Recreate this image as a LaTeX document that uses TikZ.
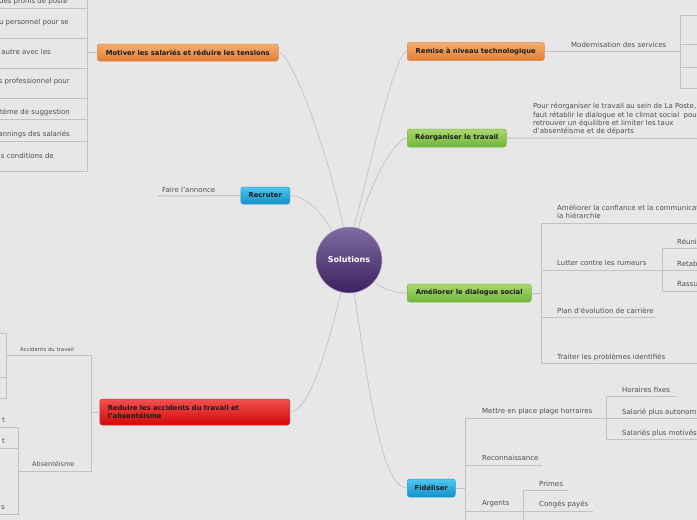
\documentclass[tikz,border=0pt]{standalone}
\usepackage{fontspec}
\setmainfont{DejaVu Sans}
\usepackage{tikz}
\usetikzlibrary{positioning}
\definecolor{Canvas}{HTML}{E7E7E7}
\definecolor{Wire}{HTML}{C6C6C6}
\definecolor{RuleGrey}{HTML}{C2C2C2}
\definecolor{LeafInk}{HTML}{4F4F4F}
\definecolor{TopicInk}{HTML}{1C1C1C}
\definecolor{OrangeTop}{HTML}{F5AE70}
\definecolor{OrangeBot}{HTML}{E27E32}
\definecolor{OrangeEdge}{HTML}{D8894A}
\definecolor{GreenTop}{HTML}{ABD870}
\definecolor{GreenBot}{HTML}{6EB53A}
\definecolor{GreenEdge}{HTML}{7CB64C}
\definecolor{BlueTop}{HTML}{52C6EF}
\definecolor{BlueBot}{HTML}{1092CC}
\definecolor{BlueEdge}{HTML}{2A9CCC}
\definecolor{RedTop}{HTML}{F25050}
\definecolor{RedBot}{HTML}{D20808}
\definecolor{RedEdge}{HTML}{D83434}
\definecolor{HubTop}{HTML}{806CA0}
\definecolor{HubBot}{HTML}{3C2160}

\begin{document}
\begin{tikzpicture}[
  x=1pt,y=-1pt,
  topic/.style={rounded corners=2.5pt,minimum height=17pt,inner xsep=3pt,inner ysep=2pt,
    font=\bfseries\fontsize{6.8}{8}\selectfont,text=TopicInk,line width=.5pt},
  topicOrange/.style={topic,draw=OrangeEdge,top color=OrangeTop,bottom color=OrangeBot},
  topicGreen/.style={topic,draw=GreenEdge,top color=GreenTop,bottom color=GreenBot},
  topicBlue/.style={topic,draw=BlueEdge,top color=BlueTop,bottom color=BlueBot},
  topicRed/.style={topic,draw=RedEdge,top color=RedTop,bottom color=RedBot},
  hub/.style={circle,minimum size=66pt,inner sep=0pt,draw=HubTop!60!white,line width=.5pt,
    top color=HubTop,bottom color=HubBot,text=white,font=\bfseries\fontsize{8}{9}\selectfont},
  wire/.style={draw=Wire,line width=.8pt},
  rule/.style={draw=RuleGrey,line width=1pt},
  leaf/.style={anchor=west,inner sep=0pt,text=LeafInk,font=\fontsize{7}{8.4}\selectfont},
  cutleaf/.style={leaf,anchor=east},
  note/.style={leaf,anchor=north west,align=left,font=\fontsize{7}{8.3}\selectfont}
]
  \path[use as bounding box,fill=Canvas] (0,0) rectangle (697,520);
  \clip (0,0) rectangle (697,520);

  % topics
  \node[hub] (hub) at (349,260) {Solutions};
  \node[topicOrange,minimum width=181pt,anchor=west] (motiv) at (97,52.5) {Motiver les salariés et réduire les tensions};
  \node[topicOrange,minimum width=137pt,minimum height=18pt,anchor=west] (remise) at (407,51.5) {Remise à niveau technologique};
  \node[topicGreen,minimum width=99pt,minimum height=18pt,anchor=west] (reorg) at (407,138) {Réorganiser le travail};
  \node[topicBlue,minimum width=49pt,anchor=east] (recru) at (290,195.5) {Recruter};
  \node[topicGreen,minimum width=124pt,minimum height=18pt,anchor=west] (amel) at (407,293) {Améliorer le dialogue social};
  \node[topicRed,minimum width=190pt,minimum height=26pt,text width=174pt,align=left,anchor=east] (reduc) at (290,412)
    {Reduire les accidents du travail et\\l'absentéisme};
  \node[topicBlue,minimum width=48pt,minimum height=18pt,anchor=west] (fidel) at (407,488) {Fidéliser};

  % wires from the hub
  \draw[wire] (hub.81) .. controls +(18,-70) and +(-12,0) .. (remise.west);
  \draw[wire] (hub.74) .. controls +(12,-45) and +(-12,0) .. (reorg.west);
  \draw[wire] (hub.100) .. controls +(-13,-68) and +(14,0) .. (motiv.east);
  \draw[wire] (hub.121) .. controls +(-10,-20) and +(15,0) .. (recru.east);
  \draw[wire] (hub.-41) .. controls +(10,8) and +(-12,0) .. (amel.west);
  \draw[wire] (hub.-104) .. controls +(-12,50) and +(20,0) .. (reduc.east);
  \draw[wire] (hub.-81) .. controls +(15,100) and +(-25,0) .. (fidel.west);

  % Motiver
  \coordinate (moJ) at (87,52.5);
  \foreach \yy [count=\i] in {-22,8,38,68,98,119,141,171}
    \coordinate (moEnd\i) at (0,\yy);
  \draw[rule] (motiv.west) -- (moJ);
  \foreach \i in {1,...,8} \draw[rule] (moJ) |- (moEnd\i);
  \node[cutleaf] (mo1) at (68,2) {des profils de poste};
  \node[cutleaf] (mo2) at (69,23) {u personnel pour se};
  \node[cutleaf] (mo3) at (51,52) {autre avec les};
  \node[cutleaf] (mo4) at (70,82) {s professionnel pour};
  \node[cutleaf] (mo5) at (70,112) {tème de suggestion};
  \node[cutleaf] (mo6) at (70,134) {annings des salariés};
  \node[cutleaf] (mo7) at (54,156) {s conditions de};

  % Remise a niveau
  \coordinate (reK) at (680,51.5);
  \foreach \yy [count=\i] in {15,44,67,88}
    \coordinate (reEnd\i) at (697,\yy);
  \draw[rule] (remise.east) -- (reK);
  \foreach \i in {1,...,4} \draw[rule] (reK) |- (reEnd\i);
  \node[leaf] (modern) at (571,45) {Modernisation des services};

  % Reorganiser
  \coordinate (roEnd) at (697,138.5);
  \draw[rule] (reorg.east) -- (roEnd);
  \node[note] (roNote) at (533,103) {Pour réorganiser le travail au sein de La Poste,\\faut rétablir le dialogue et le climat social\ \ pou\\retrouver un équilibre et limiter les taux\\d'absentéisme et de départs};

  % Recruter
  \coordinate (rcEnd) at (158,196);
  \draw[rule] (recru.west) -- (rcEnd);
  \node[leaf] (annonce) at (162,190) {Faire l'annonce};

  % Ameliorer le dialogue
  \coordinate (amJ) at (541,293);
  \coordinate (amEnd1) at (697,223);
  \coordinate (amEnd2) at (651,270);
  \coordinate (amEnd3) at (657,317);
  \coordinate (amEnd4) at (697,363);
  \draw[rule] (amel.east) -- (amJ);
  \foreach \i in {1,...,4} \draw[rule] (amJ) |- (amEnd\i);
  \node[note] (confiance) at (557,204.5) {Améliorer la confiance et la communicat\\la hiérarchie};
  \node[leaf] (rumeurs) at (557,263) {Lutter contre les rumeurs};
  \node[leaf] (carriere) at (557,311) {Plan d'évolution de carrière};
  \node[leaf] (problemes) at (557,357) {Traiter les problèmes identifiés};
  \coordinate (luK) at (662,270);
  \foreach \yy [count=\i] in {248,270,291}
    \coordinate (luEnd\i) at (697,\yy);
  \draw[rule] (amEnd2) -- (luK);
  \foreach \i in {1,...,3} \draw[rule] (luK) |- (luEnd\i);
  \node[leaf] (reunion) at (677,242) {Réuni};
  \node[leaf] (retab) at (677,264) {Retab};
  \node[leaf] (rassu) at (677,284) {Rassu};

  % Reduire les accidents
  \coordinate (rdJ) at (91,412);
  \coordinate (acK) at (6,355);
  \coordinate (abK) at (18,471);
  \draw[rule] (reduc.west) -- (rdJ);
  \draw[rule] (rdJ) |- (acK);
  \draw[rule] (rdJ) |- (abK);
  \node[leaf,font=\fontsize{5.4}{6.5}\selectfont] (accidents) at (20,349) {Accidents du travail};
  \node[leaf,font=\fontsize{6.5}{7.8}\selectfont] (absent) at (32,463.5) {Absentéisme};
  \foreach \yy [count=\i] in {333,377,398}
    \coordinate (acEnd\i) at (0,\yy);
  \foreach \i in {1,...,3} \draw[rule] (acK) |- (acEnd\i);
  \foreach \yy [count=\i] in {427,448,514}
    \coordinate (abEnd\i) at (0,\yy);
  \foreach \i in {1,...,3} \draw[rule] (abK) |- (abEnd\i);
  \node[cutleaf] (abs1) at (5,420) {t};
  \node[cutleaf] (abs2) at (5,441) {t};
  \node[cutleaf] (abs3) at (5,508) {s};

  % Fideliser
  \coordinate (fiJ) at (465,488);
  \coordinate (fiEnd1) at (597,418);
  \coordinate (fiEnd2) at (542,465);
  \coordinate (fiEnd3) at (513,511);
  \coordinate (fiEnd4) at (465,530);
  \draw[rule] (fidel.east) -- (fiJ);
  \foreach \i in {1,...,4} \draw[rule] (fiJ) |- (fiEnd\i);
  \node[leaf] (plage) at (482,412) {Mettre en place plage horraires};
  \node[leaf] (recon) at (482,458) {Reconnaissance};
  \node[leaf] (argent) at (482,504) {Argents};
  \coordinate (plK) at (606,418);
  \coordinate (plEnd1) at (676,396);
  \coordinate (plEnd2) at (697,418);
  \coordinate (plEnd3) at (697,439);
  \draw[rule] (fiEnd1) -- (plK);
  \foreach \i in {1,...,3} \draw[rule] (plK) |- (plEnd\i);
  \node[leaf] (fixes) at (622,390) {Horaires fixes};
  \node[leaf] (autonome) at (622,412) {Salarié plus autonom};
  \node[leaf] (motives) at (622,433) {Salariés plus motivés};
  \coordinate (arK) at (523,511);
  \coordinate (arEnd1) at (568,490);
  \coordinate (arEnd2) at (593,511);
  \coordinate (arEnd3) at (523,530);
  \draw[rule] (fiEnd3) -- (arK);
  \foreach \i in {1,...,3} \draw[rule] (arK) |- (arEnd\i);
  \node[leaf] (primes) at (539,483.5) {Primes};
  \node[leaf] (conges) at (539,504.5) {Congés payés};
\end{tikzpicture}
\end{document}
